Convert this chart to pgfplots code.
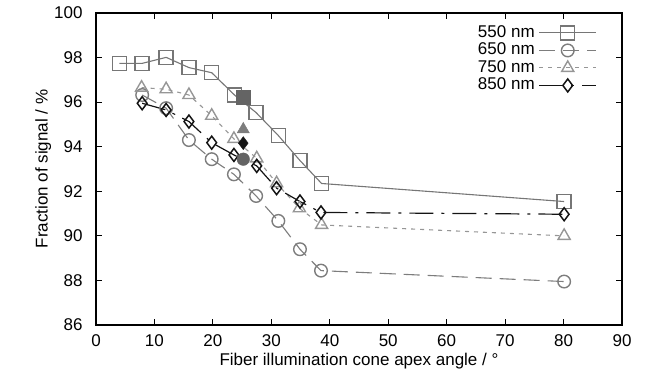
\documentclass[border=0pt]{standalone}
\usepackage{fontspec}
\setmainfont{Liberation Sans}
\usepackage{pgfplots}
\pgfplotsset{compat=1.18}
\definecolor{cA}{RGB}{118,118,118}
\definecolor{cB}{RGB}{125,125,125}
\definecolor{cC}{RGB}{150,150,150}
\definecolor{cD}{RGB}{20,20,20}
\definecolor{fA}{RGB}{100,100,100}
\definecolor{fC}{RGB}{125,125,125}
\newcommand{\bigf}{\fontsize{17}{20}\selectfont}
\begin{document}
\begin{tikzpicture}
\begin{axis}[
  scale only axis, width=526pt, height=312pt,
  xmin=0, xmax=90, ymin=86, ymax=100,
  xtick={0,10,...,90}, ytick={86,88,...,100},
  tick align=inside, major tick length=6pt,
  axis line style={line width=1.2pt},
  every tick/.style={line width=1pt, black},
  tick label style={font=\bigf},
  label style={font=\bigf},
  yticklabel style={xshift=-10pt},
  xticklabel style={yshift=-6pt},
  /pgf/number format/assume math mode=true,
  xlabel={Fiber illumination cone apex angle / °},
  ylabel={Fraction of signal / \%},
  xlabel style={yshift=0pt},
  ylabel style={yshift=-4pt},
  legend style={draw=none, fill=none, at={(1,1)}, anchor=north east, xshift=-22pt, yshift=-9pt,
    font=\bigf,
    nodes={inner ysep=0.5pt, inner xsep=4pt, text height=12.5pt, text depth=4pt}, row sep=0pt},
  legend cell align=right,
  legend plot pos=right,
  legend image code/.code={\draw[mark repeat=2,mark phase=2] plot coordinates {(0cm,0cm) (1cm,0cm) (2cm,0cm)};},
]
\addplot[cA, line width=1.1pt, mark=square, mark size=7pt, mark options={line width=1.4pt, solid}] coordinates {
(4.0,97.74) (7.9,97.74) (12.0,98.01) (15.9,97.55) (19.8,97.32) (23.7,96.32) (27.4,95.53) (31.2,94.50) (34.9,93.38) (38.6,92.35) (80.1,91.54)};
\addlegendentry{550 nm}
\addplot[cB, line width=1.1pt, dash pattern=on 16pt off 8pt, mark=o, mark size=6.3pt, mark options={line width=1.4pt, solid}] coordinates {
(7.9,96.32) (12.0,95.73) (15.9,94.30) (19.8,93.44) (23.6,92.76) (27.4,91.79) (31.2,90.67) (34.9,89.40) (38.5,88.44) (80.1,87.95)};
\addlegendentry{650 nm}
\addplot[cC, line width=1.1pt, dash pattern=on 4pt off 5pt, mark=triangle, mark size=7pt, mark options={line width=1.4pt, solid}] coordinates {
(7.8,96.65) (12.0,96.58) (15.9,96.32) (19.8,95.39) (23.6,94.35) (27.5,93.48) (30.9,92.36) (34.8,91.24) (38.6,90.49) (80.1,90.0)};
\addlegendentry{750 nm}
\addplot[cD, line width=1.2pt, dash pattern=on 24pt off 8pt on 3pt off 8pt, mark=diamond, mark size=6.5pt, mark options={line width=1.5pt, solid}] coordinates {
(7.9,95.95) (12.0,95.65) (15.9,95.13) (19.8,94.18) (23.6,93.63) (27.5,93.14) (30.9,92.14) (34.9,91.54) (38.5,91.05) (80.1,90.97)};
\addlegendentry{850 nm}
\addplot[only marks, fA, mark=square*, mark size=7pt, forget plot] coordinates {(25.2,96.22)};
\addplot[only marks, fA, mark=*, mark size=6.3pt, forget plot] coordinates {(25.2,93.44)};
\addplot[only marks, fC, mark=triangle*, mark size=7pt, forget plot] coordinates {(25.2,94.78)};
\addplot[only marks, cD, mark=diamond*, mark size=6.5pt, forget plot] coordinates {(25.2,94.16)};
\end{axis}
\path (current axis.south west) ++(-96pt,-58pt) (current axis.north east) ++(23pt,13pt);
\end{tikzpicture}
\end{document}
